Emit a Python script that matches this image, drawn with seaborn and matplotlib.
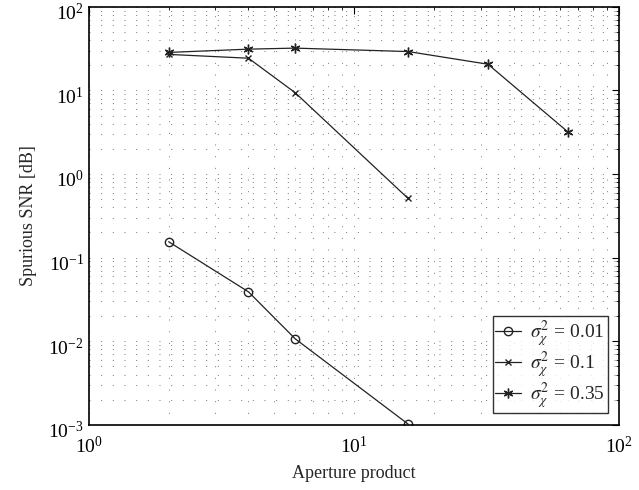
import numpy as np
import pandas as pd
import matplotlib
matplotlib.use('Agg')
import matplotlib.pyplot as plt
import matplotlib.transforms as mtransforms
import seaborn as sns

# aperture products and spurious SNR
aperture_a = [2, 4, 6, 16]
snr_001 = [0.155, 0.039, 0.0107, 0.00102]

aperture_b = [2, 4, 6, 16]
snr_01 = [27.0, 24.3, 9.4, 0.51]

aperture_c = [2, 4, 6, 16, 32, 64]
snr_035 = [28.5, 31.2, 32.1, 29.2, 20.6, 3.2]

labels = [r'$\sigma_\chi^2$ = 0.01', r'$\sigma_\chi^2$ = 0.1', r'$\sigma_\chi^2$ = 0.35']

sns.set_style('white')
plt.rcParams['font.family'] = ['Liberation Serif', 'DejaVu Serif']
plt.rcParams['mathtext.fontset'] = 'stix'

fig = plt.figure(figsize=(6.39, 4.9), dpi=100)
ax = fig.add_axes([0.139, 0.133, 0.83, 0.853])

series = [
    (aperture_a, snr_001, 'o', 'none', 6),
    (aperture_b, snr_01, 'x', 'k', 5),
    (aperture_c, snr_035, (6, 2, 0), 'k', 7),
]
for (xs, ys, mk, fc, ms), lab in zip(series, labels):
    df = pd.DataFrame({'aperture': xs, 'snr': ys})
    sns.lineplot(data=df, x='aperture', y='snr', ax=ax, color='#222222',
                 linewidth=0.9, marker=mk, markersize=ms, markerfacecolor=fc,
                 markeredgecolor='#222222', markeredgewidth=1.0, label=lab)

ax.set_xscale('log')
ax.set_yscale('log')
ax.set_xlim(1, 100)
ax.set_ylim(1e-3, 1e2)
ax.xaxis.set_major_locator(matplotlib.ticker.LogLocator(base=10, numticks=10))
ax.yaxis.set_major_locator(matplotlib.ticker.LogLocator(base=10, numticks=10))
ax.xaxis.set_minor_locator(matplotlib.ticker.LogLocator(base=10, subs=np.arange(2, 10), numticks=20))
ax.yaxis.set_minor_locator(matplotlib.ticker.LogLocator(base=10, subs=np.arange(2, 10), numticks=20))

ax.grid(True, which='both', color='#777777', linestyle=(0, (1, 11)), linewidth=0.7)
ax.tick_params(which='both', direction='in', top=True, right=True, colors='black', labelsize=14)
ax.tick_params(which='major', length=5, width=0.8)
ax.tick_params(which='minor', length=2.5, width=0.6)
ax.tick_params(axis='x', pad=8)
for sp in ax.spines.values():
    sp.set_visible(True)
    sp.set_color('black')
    sp.set_linewidth(1.2)

ax.set_xlabel('Aperture product', fontsize=13, labelpad=6)
ax.set_ylabel('Spurious SNR [dB]', fontsize=13, labelpad=8)

leg = ax.legend(loc='lower right', fontsize=14, frameon=True, fancybox=False,
                edgecolor='black', handlelength=1.3, borderpad=0.12,
                labelspacing=0.0, borderaxespad=0.6, handletextpad=0.5)
leg.get_frame().set_linewidth(1.0)

# push y tick labels down a little so the top one fits, like the original
fig.canvas.draw()
shift = mtransforms.ScaledTranslation(0, -3.5 / 72, fig.dpi_scale_trans)
for lbl in ax.get_yticklabels():
    lbl.set_transform(lbl.get_transform() + shift)

fig.savefig('out.png', dpi=100)
